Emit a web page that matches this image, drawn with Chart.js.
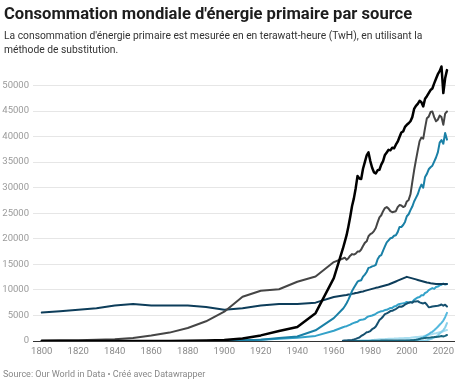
<!DOCTYPE html>
<html>
<head>
<meta charset="utf-8">
<script src="https://cdn.jsdelivr.net/npm/chart.js@4/dist/chart.umd.min.js"></script>
<style>
  html, body { margin: 0; padding: 0; background: #fff; }
  body { width: 460px; height: 385px; position: relative; overflow: hidden; font-family: Roboto, "Noto Sans", sans-serif; }
  #title { position: absolute; left: 4px; top: 5px; font-size: 16.6px; line-height: 17px; font-weight: 700; color: #1d1d1d; white-space: nowrap; }
  #subtitle { position: absolute; left: 4px; top: 28.5px; font-size: 10.3px; line-height: 14.3px; color: #333; white-space: nowrap; }
  #source { position: absolute; left: 3px; top: 369px; font-size: 9px; line-height: 11px; color: #888; white-space: nowrap; }
  #chart { position: absolute; left: 0; top: 0; }
</style>
</head>
<body>
<canvas id="chart" width="460" height="385"></canvas>
<div id="title">Consommation mondiale d'énergie primaire par source</div>
<div id="subtitle">La consommation d'énergie primaire est mesurée en en terawatt-heure (TwH), en utilisant la<br>méthode de substitution.</div>
<div id="source">Source: Our World in Data • Créé avec Datawrapper</div>
<script>
// years: decadal until 1960, then yearly
const years = [
  1800,1810,1820,1830,1840,1850,1860,1870,1880,1890,
  1900,1910,1920,1930,1940,1950,1960,1965,1966,1967,
  1968,1969,1970,1971,1972,1973,1974,1975,1976,1977,
  1978,1979,1980,1981,1982,1983,1984,1985,1986,1987,
  1988,1989,1990,1991,1992,1993,1994,1995,1996,1997,
  1998,1999,2000,2001,2002,2003,2004,2005,2006,2007,
  2008,2009,2010,2011,2012,2013,2014,2015,2016,2017,
  2018,2019,2020,2021,2022
];
const xTicks = [1800,1820,1840,1860,1880,1900,1920,1940,1960,1980,2000,2020];
const yTicks = [0,5000,10000,15000,20000,25000,30000,35000,40000,45000,50000];

// TWh
const oil = [
  0,0,0,0,0,0,0,6,33,89,
  181,494,1097,1953,2756,5444,12300,18100,19400,20700,
  22400,24300,26400,27900,29900,32300,31800,31700,33700,35000,
  36300,36900,35200,33900,33000,32800,33400,33500,34500,35200,
  36400,36900,37400,37300,37800,37700,38400,39000,39900,40800,
  41000,41900,42300,42600,43000,43800,45400,46000,46400,47000,
  46700,45900,47400,47900,48500,49100,49400,50400,51300,52200,
  52800,53700,48500,51400,53000
];
const coal = [
  97,128,153,264,356,569,1061,1642,2542,3856,
  5728,8656,9833,10125,11586,12603,15442,16140,16300,15900,
  16200,16700,17000,16900,17100,17500,17500,17900,18600,19200,
  19500,20500,20900,21100,21500,22100,23200,24200,24600,25400,
  26000,26200,25900,25400,25200,25300,25400,26200,26600,26500,
  26200,26400,27300,27600,28700,31100,33400,35400,37300,39100,
  39800,39600,41700,43600,43900,44800,44900,43800,43000,43300,
  44100,43800,42300,44500,44900
];
const gas = [
  null,null,null,null,null,null,null,null,null,null,
  64,131,239,583,875,2092,4483,6300,6800,7400,
  8100,8900,9800,10400,11000,11600,11800,11900,12600,13000,
  13500,14300,14400,14600,14700,14900,16000,16600,16800,17700,
  18500,19300,19700,20100,20200,20600,20700,21300,22300,22300,
  22700,23300,24400,24800,25600,26300,27300,28000,28700,29800,
  30600,30000,32100,32700,33600,34000,34300,35100,35900,36900,
  38800,39300,38600,40700,39400
];
const biomass = [
  5556,5833,6111,6389,6944,7222,6944,6944,6944,6667,
  6111,6389,6944,7222,7222,7500,8600,8900,8950,9000,
  9100,9150,9250,9300,9400,9450,9550,9650,9700,9800,
  9900,10000,10100,10200,10300,10400,10450,10550,10650,10750,
  10850,10950,11050,11200,11350,11500,11650,11800,11950,12100,
  12250,12400,12550,12450,12350,12250,12150,12050,11950,11850,
  11750,11650,11550,11450,11400,11300,11250,11200,11150,11150,
  11150,11150,11150,11150,11150
];
const hydro = [
  null,null,null,null,null,null,null,null,null,null,
  50,120,250,450,650,1000,2000,2700,2820,2900,
  3050,3200,3400,3550,3680,3760,4080,4150,4220,4300,
  4620,4820,4900,4980,5130,5330,5550,5700,5820,5880,
  6050,6100,6300,6450,6480,6750,6830,7100,7230,7310,
  7370,7450,7650,7480,7580,7630,8050,8300,8520,8620,
  8940,8950,9400,9550,9950,10150,10350,10200,10550,10650,
  10880,11000,11250,11050,11150
];
const nuclear = [
  null,null,null,null,null,null,null,null,null,null,
  null,null,null,null,null,null,null,70,90,110,
  140,170,220,310,420,560,690,1000,1170,1430,
  1700,1770,1950,2300,2500,2850,3450,4100,4400,4800,
  5250,5400,5600,5850,5900,6100,6250,6500,6750,6700,
  6850,7150,7300,7500,7600,7500,7750,7750,7800,7550,
  7450,7350,7500,7100,6600,6650,6750,6800,6850,6900,
  7000,7150,6900,7100,6750
];
const wind = [
  null,null,null,null,null,null,null,null,null,null,
  null,null,null,null,null,null,null,0,0,0,
  0,0,0,0,0,0,0,0,0,0,
  0,0,0,0,0,0,0,0,0,0,
  0,0,10,12,14,16,19,22,27,33,
  43,57,85,110,140,170,230,280,350,460,
  570,720,900,1130,1330,1620,1790,2100,2430,2800,
  3170,3550,4000,4650,5500
];
const solar = [
  null,null,null,null,null,null,null,null,null,null,
  null,null,null,null,null,null,null,0,0,0,
  0,0,0,0,0,0,0,0,0,0,
  0,0,0,0,0,0,0,0,0,0,
  0,0,0,0,0,0,0,0,0,0,
  0,0,0,0,0,0,0,10,15,20,
  35,55,90,170,260,360,500,650,850,1120,
  1450,1760,2130,2640,3500
];
const otherRenew = [
  null,null,null,null,null,null,null,null,null,null,
  null,null,null,null,null,null,null,60,65,70,
  75,80,90,95,100,110,120,130,140,150,
  160,170,190,210,230,260,290,320,340,360,
  380,410,430,440,460,470,490,500,520,540,
  560,580,600,610,640,680,720,760,800,850,
  900,950,1050,1120,1200,1280,1380,1450,1520,1620,
  1720,1820,1920,2050,2150
];
const biofuels = [
  null,null,null,null,null,null,null,null,null,null,
  null,null,null,null,null,null,null,0,0,0,
  0,0,0,0,0,0,0,0,0,0,
  0,0,20,30,40,50,60,70,80,85,
  85,90,90,95,95,100,100,110,115,120,
  115,110,110,120,140,170,200,240,300,380,
  480,540,610,620,630,680,740,760,790,830,
  900,960,890,1000,1170
];

const series = [
  { label: 'Pétrole', values: oil, color: '#000000', width: 2.5 },
  { label: 'Charbon', values: coal, color: '#454545', width: 2 },
  { label: 'Gaz', values: gas, color: '#1a80a6', width: 2 },
  { label: 'Biomasse traditionnelle', values: biomass, color: '#0d3d5a', width: 2 },
  { label: 'Nucléaire', values: nuclear, color: '#15506f', width: 2 },
  { label: 'Hydroélectricité', values: hydro, color: '#34a2c9', width: 2 },
  { label: 'Biocarburants', values: biofuels, color: '#17657e', width: 2 },
  { label: 'Éolien', values: wind, color: '#55b9de', width: 2 },
  { label: 'Solaire', values: solar, color: '#86d0ea', width: 2 },
  { label: 'Autres renouvelables', values: otherRenew, color: '#a9def0', width: 2 }
];

const datasets = series.map(s => ({
  label: s.label,
  data: years.map((yr, i) => ({ x: yr, y: s.values[i] })).filter(p => p.y !== null),
  borderColor: s.color,
  backgroundColor: s.color,
  borderWidth: s.width,
  pointRadius: 0,
  tension: 0,
  borderJoinStyle: 'round',
  borderCapStyle: 'round'
}));

const tickFont = { family: 'Roboto', size: 9.5 };

new Chart(document.getElementById('chart'), {
  type: 'line',
  data: { datasets },
  options: {
    responsive: false,
    animation: false,
    layout: { padding: { top: 65, right: 5, left: 0, bottom: 0 } },
    plugins: { legend: { display: false }, tooltip: { enabled: false } },
    scales: {
      x: {
        type: 'linear',
        min: 1795.2,
        max: 2026.4,
        afterBuildTicks: ax => { ax.ticks = xTicks.map(v => ({ value: v })); },
        afterFit: ax => { ax.height = 44; },
        grid: { display: false, drawTicks: false },
        border: { display: false },
        ticks: { color: '#8a8a8a', font: tickFont, padding: 5, maxRotation: 0, callback: v => String(v) }
      },
      y: {
        min: 0,
        max: 54000,
        afterBuildTicks: ax => { ax.ticks = yTicks.map(v => ({ value: v })); },
        afterFit: ax => { ax.width = 33; },
        grid: {
          drawTicks: false,
          color: c => c.tick && c.tick.value === 0 ? '#333333' : '#e6e6e6',
          lineWidth: 1
        },
        border: { display: false },
        ticks: { color: '#9a9a9a', font: tickFont, padding: 4, callback: v => String(v) }
      }
    }
  }
});
</script>
</body>
</html>
